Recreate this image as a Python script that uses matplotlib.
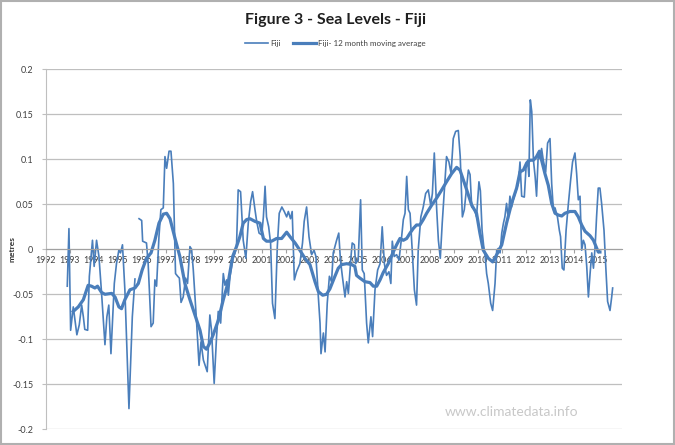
import numpy as np
import matplotlib.pyplot as plt
from matplotlib.patches import Rectangle

# Fiji monthly sea level (metres)
raw_t = [1992.89, 1992.96, 1993.03, 1993.14, 1993.29, 1993.39, 1993.49, 1993.56, 1993.62, 1993.74,
         1993.81, 1993.94, 1994.01, 1994.11, 1994.21, 1994.32, 1994.46, 1994.54, 1994.62, 1994.71,
         1994.85, 1994.94, 1995.04, 1995.11, 1995.19, 1995.29, 1995.46, 1995.60, 1995.71, 1995.80,
         1995.88, 1995.99, 1996.03, 1996.19, 1996.26, 1996.38, 1996.47, 1996.54, 1996.61, 1996.71,
         1996.79, 1996.89, 1996.96, 1997.03, 1997.13, 1997.21, 1997.31, 1997.40, 1997.49, 1997.56,
         1997.63, 1997.72, 1997.82, 1997.90, 1998.00, 1998.07, 1998.14, 1998.21, 1998.28, 1998.38,
         1998.46, 1998.56, 1998.72, 1998.83, 1998.90, 1999.01, 1999.11, 1999.18, 1999.28, 1999.39,
         1999.46, 1999.53, 1999.60, 1999.67, 1999.78, 1999.88, 1999.94, 2000.01, 2000.11, 2000.22,
         2000.33, 2000.43, 2000.53, 2000.61, 2000.71, 2000.78, 2000.88, 2000.99, 2001.06, 2001.13,
         2001.19, 2001.28, 2001.36, 2001.44, 2001.54, 2001.64, 2001.72, 2001.83, 2001.93, 2002.03,
         2002.10, 2002.19, 2002.26, 2002.35, 2002.44, 2002.58, 2002.69, 2002.76, 2002.86, 2002.96,
         2003.07, 2003.17, 2003.25, 2003.35, 2003.42, 2003.46, 2003.56, 2003.63, 2003.72, 2003.81,
         2003.90, 2003.97, 2004.11, 2004.20, 2004.27, 2004.35, 2004.46, 2004.53, 2004.60, 2004.71,
         2004.76, 2004.85, 2004.90, 2005.01, 2005.11, 2005.18, 2005.26, 2005.36, 2005.43, 2005.54,
         2005.61, 2005.71, 2005.82, 2005.92, 2006.01, 2006.10, 2006.19, 2006.29, 2006.37, 2006.43,
         2006.51, 2006.61, 2006.71, 2006.82, 2006.89, 2006.96, 2007.03, 2007.10, 2007.17, 2007.26,
         2007.35, 2007.44, 2007.51, 2007.62, 2007.72, 2007.82, 2007.93, 2008.03, 2008.10, 2008.18,
         2008.28, 2008.35, 2008.43, 2008.51, 2008.60, 2008.69, 2008.79, 2008.88, 2008.97, 2009.07,
         2009.18, 2009.26, 2009.35, 2009.43, 2009.50, 2009.60, 2009.67, 2009.74, 2009.85, 2009.94,
         2010.04, 2010.10, 2010.17, 2010.24, 2010.30, 2010.36, 2010.43, 2010.53, 2010.61, 2010.71,
         2010.78, 2010.85, 2010.92, 2010.99, 2011.06, 2011.12, 2011.19, 2011.26, 2011.33, 2011.40,
         2011.47, 2011.57, 2011.68, 2011.75, 2011.82, 2011.93, 2012.00, 2012.07, 2012.12, 2012.18,
         2012.24, 2012.31, 2012.38, 2012.44, 2012.51, 2012.58, 2012.65, 2012.72, 2012.82, 2012.90,
         2013.00, 2013.07, 2013.14, 2013.21, 2013.31, 2013.39, 2013.44, 2013.51, 2013.58, 2013.67,
         2013.76, 2013.86, 2013.94, 2014.04, 2014.11, 2014.18, 2014.25, 2014.32, 2014.39, 2014.46,
         2014.53, 2014.60, 2014.67, 2014.74, 2014.81, 2014.88, 2014.94, 2015.01, 2015.08, 2015.15,
         2015.25, 2015.33, 2015.40, 2015.50, 2015.57, 2015.61]
raw_v = [-0.041, 0.023, -0.090, -0.064, -0.095, -0.084, -0.062, -0.075, -0.089, -0.090,
         -0.030, 0.010, -0.019, 0.010, -0.008, -0.049, -0.106, -0.075, -0.062, -0.116,
         -0.038, -0.016, -0.001, -0.004, 0.005, -0.045, -0.177, -0.075, -0.033, np.nan,
         0.034, 0.032, 0.009, 0.007, -0.016, -0.086, -0.082, -0.034, -0.041, 0.014,
         0.044, 0.046, 0.103, 0.090, 0.109, 0.109, 0.073, -0.027, -0.030, -0.032,
         -0.059, -0.053, -0.032, -0.038, 0.003, 0.000, -0.023, -0.053, -0.082, -0.129,
         -0.103, -0.123, -0.136, -0.073, -0.090, -0.149, -0.097, -0.069, -0.082, -0.027,
         -0.040, -0.034, -0.051, -0.030, -0.012, -0.004, 0.003, 0.066, 0.064, 0.010,
         -0.010, 0.029, 0.053, 0.064, 0.044, 0.031, 0.018, 0.016, 0.036, 0.070,
         0.036, 0.025, 0.007, -0.060, -0.077, 0.003, 0.040, 0.047, 0.042, 0.036,
         0.042, 0.034, 0.042, -0.034, -0.025, -0.016, 0.007, 0.031, 0.047, 0.014,
         -0.006, -0.001, -0.008, -0.053, -0.082, -0.116, -0.093, -0.114, -0.060, -0.030,
         -0.036, -0.004, 0.010, 0.018, -0.012, -0.030, -0.053, -0.036, -0.049, -0.008,
         0.007, 0.005, -0.016, -0.012, 0.055, -0.023, -0.027, -0.082, -0.104, -0.075,
         -0.097, -0.045, -0.023, -0.016, 0.025, -0.016, -0.029, -0.025, -0.038, 0.009,
         -0.008, -0.006, -0.012, 0.014, 0.033, 0.040, 0.081, 0.044, 0.040, -0.001,
         -0.045, -0.062, -0.001, 0.036, 0.047, 0.062, 0.066, 0.049, 0.062, 0.107,
         0.044, 0.010, -0.010, 0.029, 0.066, 0.103, 0.097, 0.084, 0.123, 0.131,
         0.132, 0.103, 0.036, 0.044, 0.062, 0.088, 0.083, 0.047, 0.044, 0.036,
         0.075, 0.065, 0.021, 0.003, -0.008, -0.027, -0.038, -0.060, -0.068, -0.038,
         -0.001, 0.001, -0.004, 0.018, 0.029, 0.036, 0.051, 0.034, 0.059, 0.047,
         0.055, 0.064, 0.073, 0.097, 0.059, 0.058, 0.090, 0.099, 0.081, 0.166,
         0.153, 0.099, 0.081, 0.059, 0.105, 0.101, 0.112, 0.099, 0.086, 0.118,
         0.123, 0.073, 0.044, 0.046, 0.036, 0.021, 0.014, -0.021, -0.023, 0.021,
         0.049, 0.077, 0.097, 0.107, 0.084, 0.055, 0.059, -0.001, 0.010, 0.005,
         -0.019, -0.053, -0.027, -0.004, -0.021, 0.003, 0.036, 0.068, 0.068, 0.051,
         0.021, -0.023, -0.058, -0.068, -0.053, -0.043]

# 12 month moving average
ma_t = [1993.14, 1993.35, 1993.56, 1993.76, 1993.90, 1994.04, 1994.15, 1994.32, 1994.46, 1994.74,
        1994.88, 1995.04, 1995.15, 1995.29, 1995.50, 1995.71, 1995.85, 1996.01, 1996.19, 1996.38,
        1996.54, 1996.71, 1996.89, 1997.03, 1997.17, 1997.38, 1997.58, 1997.79, 1998.00, 1998.21,
        1998.42, 1998.56, 1998.69, 1998.83, 1998.97, 1999.18, 1999.39, 1999.60, 1999.78, 1999.94,
        2000.08, 2000.22, 2000.36, 2000.50, 2000.71, 2000.92, 2001.06, 2001.19, 2001.40, 2001.61,
        2001.82, 2002.03, 2002.17, 2002.38, 2002.58, 2002.79, 2003.00, 2003.21, 2003.35, 2003.53,
        2003.69, 2003.83, 2004.04, 2004.18, 2004.32, 2004.53, 2004.74, 2004.87, 2004.94, 2005.08,
        2005.29, 2005.50, 2005.64, 2005.78, 2005.92, 2006.05, 2006.26, 2006.47, 2006.61, 2006.75,
        2006.89, 2007.03, 2007.17, 2007.30, 2007.44, 2007.58, 2007.72, 2007.86, 2008.07, 2008.28,
        2008.49, 2008.69, 2008.90, 2009.11, 2009.25, 2009.39, 2009.53, 2009.74, 2009.94, 2010.08,
        2010.22, 2010.43, 2010.61, 2010.78, 2010.99, 2011.19, 2011.40, 2011.61, 2011.75, 2011.89,
        2012.03, 2012.17, 2012.31, 2012.44, 2012.56, 2012.65, 2012.79, 2012.93, 2013.07, 2013.21,
        2013.35, 2013.49, 2013.62, 2013.83, 2014.04, 2014.18, 2014.32, 2014.46, 2014.67, 2014.81,
        2014.92, 2015.01, 2015.08]
ma_v = [-0.069, -0.064, -0.056, -0.040, -0.041, -0.043, -0.041, -0.048, -0.050, -0.049,
        -0.053, -0.064, -0.066, -0.056, -0.045, -0.043, -0.038, -0.023, -0.010, -0.004,
        0.010, 0.029, 0.039, 0.040, 0.034, 0.012, -0.008, -0.038, -0.056, -0.073,
        -0.090, -0.108, -0.111, -0.104, -0.095, -0.079, -0.056, -0.036, -0.008, 0.003,
        0.014, 0.029, 0.033, 0.034, 0.031, 0.029, 0.012, 0.009, 0.009, 0.012,
        0.012, 0.019, 0.014, 0.007, -0.001, -0.010, -0.017, -0.036, -0.047, -0.051,
        -0.050, -0.044, -0.030, -0.021, -0.017, -0.016, -0.017, -0.019, -0.029, -0.032,
        -0.036, -0.037, -0.041, -0.041, -0.034, -0.026, -0.016, -0.003, 0.005, 0.012,
        0.010, 0.012, 0.018, 0.023, 0.027, 0.027, 0.033, 0.040, 0.049, 0.057,
        0.066, 0.075, 0.084, 0.091, 0.088, 0.077, 0.066, 0.049, 0.040, 0.018,
        -0.001, -0.010, -0.014, -0.006, 0.005, 0.029, 0.051, 0.068, 0.086, 0.088,
        0.096, 0.099, 0.099, 0.103, 0.109, 0.099, 0.084, 0.071, 0.051, 0.040,
        0.038, 0.037, 0.040, 0.042, 0.042, 0.036, 0.027, 0.020, 0.015, 0.010,
        0.003, -0.003, -0.003]

years = list(range(1992, 2016))
yticks = [0.2, 0.15, 0.1, 0.05, 0, -0.05, -0.1, -0.15, -0.2]
ytick_labels = ['0.2', '0.15', '0.1', '0.05', '0', '-0.05', '-0.1', '-0.15', '-0.2']

blue = '#4a7ebb'
grid_c = '#bfbfbf'
txt_c = '#404040'

fig = plt.figure(figsize=(6.75, 4.45), dpi=100)
fig.patches.append(Rectangle((0.002, 0.002), 0.996, 0.996, transform=fig.transFigure,
                             fill=False, edgecolor='#b0b0b0', linewidth=1.5))
ax = fig.add_axes([0.068, 0.0353, 0.8535, 0.809])

l1, = ax.plot(raw_t, raw_v, color=blue, lw=1.2, label='Fiji')
l2, = ax.plot(ma_t, ma_v, color=blue, lw=2.3, label='Fiji- 12 month moving average')

ax.set_xlim(1992, 2016)
ax.set_ylim(-0.2, 0.2)
ax.set_yticks(yticks)
ax.set_yticklabels(ytick_labels)
ax.set_xticks(years)
ax.set_xticklabels([str(y) for y in years])
ax.yaxis.grid(True, color=grid_c, lw=0.9)
ax.set_axisbelow(True)

for s in ['top', 'right']:
    ax.spines[s].set_visible(False)
ax.spines['left'].set_color(grid_c)
ax.spines['bottom'].set_position(('data', 0))
ax.spines['bottom'].set_color('#a0a0a0')
ax.tick_params(axis='y', colors=grid_c, labelcolor=txt_c, labelsize=6.5, length=3, pad=6)
ax.tick_params(axis='x', colors='#a0a0a0', labelcolor=txt_c, labelsize=6.3, length=3, pad=1.5)
for t in ax.get_xticklabels() + ax.get_yticklabels():
    t.set_family('Lato')

fig.text(0.018, 0.44, 'metres', rotation=90, fontsize=6, fontweight='bold', color='#303030',
         ha='center', va='center', family='Lato')
fig.text(0.497, 0.955, 'Figure 3 - Sea Levels - Fiji', fontsize=11.5, fontweight='bold',
         color='#202020', ha='center', va='center', family='Lato')
fig.legend(handles=[l1, l2], loc='center', bbox_to_anchor=(0.497, 0.903), ncol=2, frameon=False,
           prop={'family': 'Lato', 'size': 5.8}, handlelength=2.8, columnspacing=1.6,
           handletextpad=0.3, labelcolor='#404040')
fig.text(0.758, 0.074, 'www.climatedata.info', fontsize=10, color='#c8c8c8',
         ha='center', va='center', family='Lato')

fig.savefig('out.png', dpi=100)
